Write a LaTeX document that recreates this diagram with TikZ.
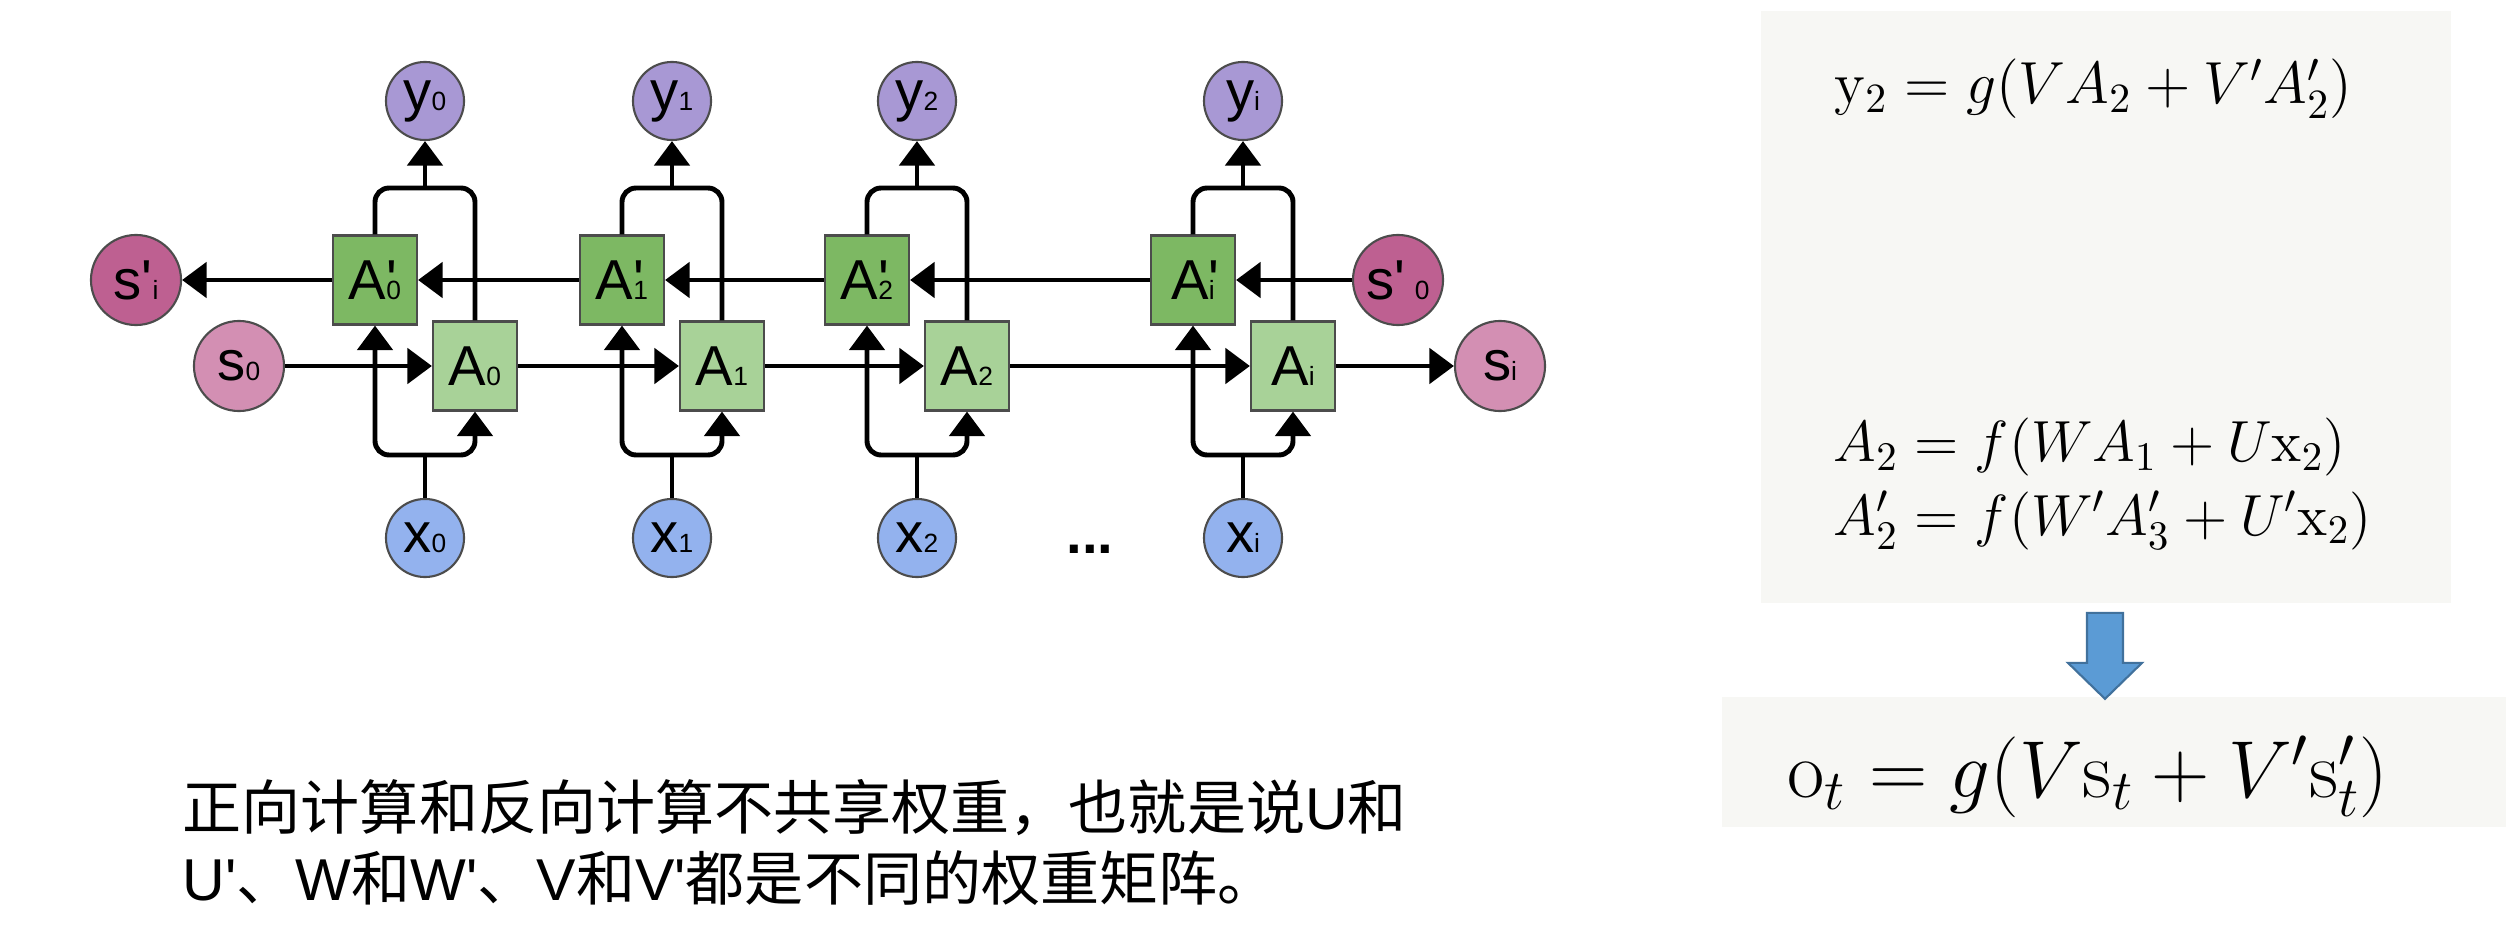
\RequirePackage{fix-cm}
\documentclass[tikz,border=0pt]{standalone}
\usepackage[no-math]{fontspec}
\setmainfont{Liberation Sans}
\newfontfamily\cjk{Noto Sans CJK SC}
\usepackage{tikz}
\usetikzlibrary{arrows.meta,positioning,calc}
\definecolor{ycol}{HTML}{A898D4}
\definecolor{xcol}{HTML}{93B2EE}
\definecolor{scol}{HTML}{D38FB3}
\definecolor{spcol}{HTML}{BE6091}
\definecolor{acol}{HTML}{A8D298}
\definecolor{apcol}{HTML}{7DB863}
\definecolor{panelgray}{HTML}{F7F7F4}
\definecolor{arrowblue}{HTML}{5B9BD5}
\definecolor{arrowedge}{HTML}{41719C}
\newcommand{\lsub}[1]{{\fontsize{7.5}{8}\selectfont #1}}
\newcommand{\lprm}[1]{\makebox[0pt][l]{\textquotesingle}\lsub{#1}}
\tikzset{
    rnn label/.style={font=\fontsize{16}{18}\selectfont, text=black},
    rnn node/.style={
        circle,
        draw=black!70,
        line width=0.6pt,
        minimum size=0.78cm,
        inner sep=0pt,
        rnn label
    },
    rnn out/.style={rnn node, fill=ycol},
    rnn in/.style={rnn node, fill=xcol},
    rnn state/.style={rnn node, minimum size=0.9cm, fill=scol},
    rnn bstate/.style={rnn state, fill=spcol},
    rnn cell/.style={
        rectangle,
        draw=black!70,
        line width=0.6pt,
        minimum width=0.84cm,
        minimum height=0.89cm,
        inner sep=0pt,
        fill=acol,
        rnn label
    },
    rnn bcell/.style={rnn cell, fill=apcol},
    rnn line/.style={line width=1.4pt, draw=black, rounded corners=4pt},
    rnn arrow/.style={rnn line, -{Triangle[length=7pt,width=10pt]}},
    panel/.style={fill=panelgray, draw=none, inner sep=0pt},
    eq/.style={anchor=base west, inner sep=0pt, text=black},
    note/.style={anchor=base west, inner sep=0pt, font=\fontsize{16.8}{20}\selectfont}
}
\begin{document}
\begin{tikzpicture}[x=0.01cm, y=-0.01cm]
\useasboundingbox (0,0) rectangle (2506,946);
% outputs
\node[rnn out] (y0) at (425,101) {y\lsub{0}};
\node[rnn out] (y1) at (672,101) {y\lsub{1}};
\node[rnn out] (y2) at (917,101) {y\lsub{2}};
\node[rnn out] (yi) at (1243,101) {y\lsub{i}};
% backward cells
\node[rnn bcell] (ap0) at (375,280) {A\lprm{0}};
\node[rnn bcell] (ap1) at (622,280) {A\lprm{1}};
\node[rnn bcell] (ap2) at (867,280) {A\lprm{2}};
\node[rnn bcell] (api) at (1193,280) {A\lprm{i}};
% forward cells
\node[rnn cell] (a0) at (475,366) {A\lsub{0}};
\node[rnn cell] (a1) at (722,366) {A\lsub{1}};
\node[rnn cell] (a2) at (967,366) {A\lsub{2}};
\node[rnn cell] (ai) at (1293,366) {A\lsub{i}};
% inputs
\node[rnn in] (x0) at (425,538) {x\lsub{0}};
\node[rnn in] (x1) at (672,538) {x\lsub{1}};
\node[rnn in] (x2) at (917,538) {x\lsub{2}};
\node[rnn in] (xi) at (1243,538) {x\lsub{i}};
\node[rnn label, inner sep=0pt] (dots) at (1090,549) {\textbf{...}};
% states
\node[rnn bstate] (spi) at (136,280) {s\textquotesingle\lsub{i}};
\node[rnn state] (s0) at (239,366) {s\lsub{0}};
\node[rnn bstate] (sp0) at (1398,280) {s\textquotesingle\,\lsub{0}};
\node[rnn state] (si) at (1500,366) {s\lsub{i}};

% recurrent rows
\draw[rnn arrow] (sp0) -- (api);
\draw[rnn arrow] (api) -- (ap2);
\draw[rnn arrow] (ap2) -- (ap1);
\draw[rnn arrow] (ap1) -- (ap0);
\draw[rnn arrow] (ap0) -- (spi);
\draw[rnn arrow] (s0) -- (a0);
\draw[rnn arrow] (a0) -- (a1);
\draw[rnn arrow] (a1) -- (a2);
\draw[rnn arrow] (a2) -- (ai);
\draw[rnn arrow] (ai) -- (si);

% column 0
\coordinate (top0) at (425,188);
\coordinate (bot0) at (425,455);
\draw[rnn line] (ap0.north) |- (top0) -| (a0.north);
\draw[rnn arrow] (top0) -- (y0);
\draw[rnn line] (x0) -- (bot0);
\draw[rnn arrow] (bot0) -| (ap0);
\draw[rnn arrow] (bot0) -| (a0);
% column 1
\coordinate (top1) at (672,188);
\coordinate (bot1) at (672,455);
\draw[rnn line] (ap1.north) |- (top1) -| (a1.north);
\draw[rnn arrow] (top1) -- (y1);
\draw[rnn line] (x1) -- (bot1);
\draw[rnn arrow] (bot1) -| (ap1);
\draw[rnn arrow] (bot1) -| (a1);
% column 2
\coordinate (top2) at (917,188);
\coordinate (bot2) at (917,455);
\draw[rnn line] (ap2.north) |- (top2) -| (a2.north);
\draw[rnn arrow] (top2) -- (y2);
\draw[rnn line] (x2) -- (bot2);
\draw[rnn arrow] (bot2) -| (ap2);
\draw[rnn arrow] (bot2) -| (a2);
% column i
\coordinate (topi) at (1243,188);
\coordinate (boti) at (1243,455);
\draw[rnn line] (api.north) |- (topi) -| (ai.north);
\draw[rnn arrow] (topi) -- (yi);
\draw[rnn line] (xi) -- (boti);
\draw[rnn arrow] (boti) -| (api);
\draw[rnn arrow] (boti) -| (ai);

% note
\node[note] (note1) at (182,829) {{\cjk 正向计算和反向计算不共享权重，也就是说}U{\cjk 和}};
\node[note] (note2) at (182,900) {U\textquotesingle{\cjk 、}W{\cjk 和}W\textquotesingle{\cjk 、}V{\cjk 和}V\textquotesingle{\cjk 都是不同的权重矩阵。}};

% equations
\node[panel, minimum width=6.9cm, minimum height=5.92cm] (eqbox) at (2106,307) {};
\node[panel, minimum width=7.84cm, minimum height=1.30cm] (otbox) at (2114,762) {};
\filldraw[fill=arrowblue, draw=arrowedge, line width=0.6pt]
    ($(eqbox.south)+(-19,9)$) -- ++(36,0) -- ++(0,50) -- ++(19,0)
    -- ++(-37,36) -- ++(-37,-36) -- ++(19,0) -- cycle;
\node[eq, font=\fontsize{16.9}{20}\selectfont] (eqy) at (1834,104) {$\mathrm{y}_2 = g(V A_2 + V' A'_2)$};
\node[eq, font=\fontsize{16.5}{20}\selectfont] (eqa) at (1833,462) {$A_2 = f(W A_1 + U\mathrm{x}_2)$};
\node[eq, font=\fontsize{16.5}{20}\selectfont] (eqap) at (1833,535) {$A'_2 = f(W' A'_3 + U'\mathrm{x}_2)$};
\node[eq, font=\fontsize{23}{27}\selectfont] (eqo) at (1787,797) {$\mathrm{o}_t = g(V\mathrm{s}_t + V'\mathrm{s}'_t)$};
\end{tikzpicture}
\end{document}
